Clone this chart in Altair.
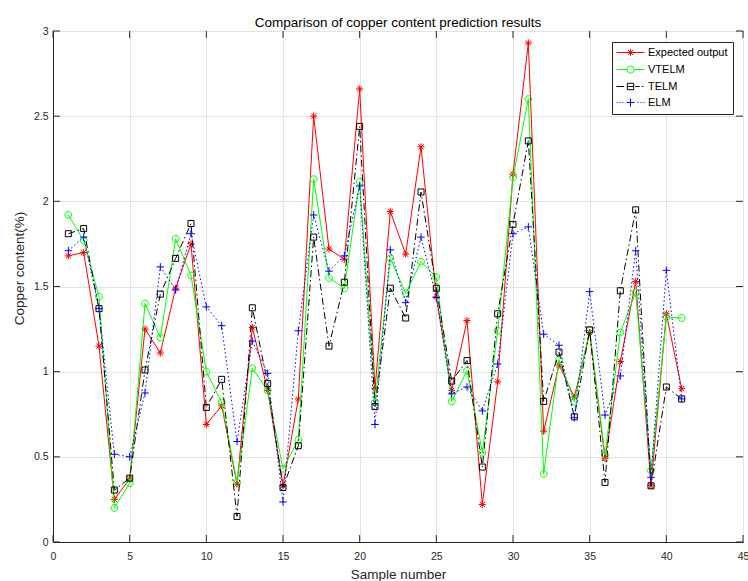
import altair as alt
import pandas as pd

samples = list(range(1, 42))
expected = [1.68, 1.70, 1.15, 0.25, 0.37, 1.25, 1.11, 1.49, 1.75, 0.69,
            0.80, 0.34, 1.26, 0.89, 0.33, 0.84, 2.50, 1.72, 1.66, 2.66,
            0.90, 1.94, 1.69, 2.32, 1.44, 0.89, 1.30, 0.22, 0.94, 2.16,
            2.93, 0.65, 1.04, 0.85, 1.23, 0.49, 1.06, 1.53, 0.33, 1.34, 0.90]
vtelm = [1.92, 1.77, 1.44, 0.20, 0.345, 1.40, 1.20, 1.78, 1.565, 1.00,
         0.82, 0.35, 1.02, 0.89, 0.43, 0.60, 2.13, 1.55, 1.49, 2.115,
         0.82, 1.665, 1.46, 1.645, 1.555, 0.825, 1.005, 0.525, 1.24, 2.14,
         2.60, 0.40, 1.07, 0.825, 1.245, 0.51, 1.23, 1.465, 0.42, 1.32, 1.315]
telm = [1.81, 1.84, 1.37, 0.305, 0.375, 1.01, 1.455, 1.665, 1.87, 0.79,
        0.955, 0.15, 1.375, 0.93, 0.32, 0.565, 1.79, 1.15, 1.525, 2.44,
        0.795, 1.49, 1.315, 2.055, 1.49, 0.945, 1.065, 0.44, 1.34, 1.865,
        2.355, 0.825, 1.115, 0.735, 1.245, 0.35, 1.475, 1.95, 0.33, 0.91, 0.84]
elm = [1.71, 1.79, 1.37, 0.515, 0.50, 0.875, 1.615, 1.48, 1.81, 1.38,
       1.27, 0.59, 1.18, 0.99, 0.235, 1.24, 1.92, 1.59, 1.68, 2.09,
       0.69, 1.715, 1.405, 1.79, 1.435, 0.87, 0.91, 0.77, 1.045, 1.81,
       1.85, 1.22, 1.155, 0.73, 1.47, 0.745, 0.975, 1.71, 0.38, 1.595, 0.84]

series_names = ["Expected output", "VTELM", "TELM", "ELM"]
x_ticks = [0, 5, 10, 15, 20, 25, 30, 35, 40, 45]
y_ticks = [0, 0.5, 1, 1.5, 2, 2.5, 3]

colors = ["#ff0000", "#00ff00", "#000000", "#0000ff"]
dashes = [None, None, [7, 3, 1.5, 3], [1.5, 2.5]]

marker_paths = [
    "M-0.9,0H0.9M0,-0.9V0.9M-0.65,-0.65L0.65,0.65M-0.65,0.65L0.65,-0.65",
    "M0.85,0A0.85,0.85 0 1,1 -0.85,0A0.85,0.85 0 1,1 0.85,0Z",
    "M-0.75,-0.75H0.75V0.75H-0.75Z",
    "M-0.95,0H0.95M0,-0.95V0.95",
]
legend_paths = [
    "M-3.5,0H3.5M0,-0.9V0.9M-0.65,-0.65L0.65,0.65M-0.65,0.65L0.65,-0.65",
    "M-3.5,0H-0.9M0.9,0H3.5M0.9,0A0.9,0.9 0 1,1 -0.9,0A0.9,0.9 0 1,1 0.9,0Z",
    "M-3.5,0H-1.6M-0.8,-0.8H0.8V0.8H-0.8ZM-0.8,0H0.8M1.2,0H2.3M2.8,0H3.2",
    "M-3.5,0H-3.25M-2.75,0H-2.5M-2.0,0H-1.75M-1,0H1M0,-1V1M1.75,0H2.0M2.5,0H2.75M3.25,0H3.5",
]

rows = []
for name, vals in zip(series_names, [expected, vtelm, telm, elm]):
    for s, v in zip(samples, vals):
        rows.append({"x": s, "y": v, "series": name})
df = pd.DataFrame(rows)
xt = pd.DataFrame({"x": x_ticks})
yt = pd.DataFrame({"y": y_ticks})

FONT = "Liberation Sans"
AX = "#262626"
W, H = 690, 511

xs = alt.Scale(domain=[0, 45], nice=False, zero=False)
ys = alt.Scale(domain=[0, 3], nice=False, zero=False)

X = alt.X("x:Q", scale=xs, axis=alt.Axis(
    values=x_ticks, title="Sample number", grid=True, gridColor="#e3e3e3",
    domainColor=AX, ticks=False, tickSize=0, labelFont=FONT, labelFontSize=10.5,
    labelColor=AX, labelBaseline="alphabetic", labelPadding=17, labelFlush=False,
    titleFont=FONT, titleFontSize=13.5, titleFontWeight="normal", titleColor=AX,
    titleBaseline="alphabetic", titleY=36.5))
Y = alt.Y("y:Q", scale=ys, axis=alt.Axis(
    values=y_ticks, format="~g", title="Copper content(%)", grid=True,
    gridColor="#e3e3e3", domainColor=AX, ticks=False, tickSize=0, labelFont=FONT,
    labelFontSize=10.5, labelColor=AX, labelPadding=5, labelFlush=False,
    titleFont=FONT, titleFontSize=13.5, titleFontWeight="normal", titleColor=AX,
    titleBaseline="alphabetic", titleX=-30, titleY=237))

layers = []
for name, c, d, mp in zip(series_names, colors, dashes, marker_paths):
    sub = alt.Chart(df).transform_filter(alt.datum.series == name)
    line_kw = dict(color=c, strokeWidth=1)
    if d is not None:
        line_kw["strokeDash"] = d
    layers.append(sub.mark_line(**line_kw).encode(x=X, y=Y))
    layers.append(sub.mark_point(shape=mp, color=c, filled=False, size=64,
                                 opacity=1, strokeWidth=1).encode(x=X, y=Y))

# inward ticks on all four sides
layers.append(alt.Chart(xt).mark_rule(color=AX, strokeWidth=1).encode(
    x=X, y=alt.value(H), y2=alt.value(H - 7)))
layers.append(alt.Chart(xt).mark_rule(color=AX, strokeWidth=1).encode(
    x=X, y=alt.value(0), y2=alt.value(7)))
layers.append(alt.Chart(yt).mark_rule(color=AX, strokeWidth=1).encode(
    y=Y, x=alt.value(0), x2=alt.value(7)))
layers.append(alt.Chart(yt).mark_rule(color=AX, strokeWidth=1).encode(
    y=Y, x=alt.value(W), x2=alt.value(W - 7)))

legend = alt.Legend(title=None, orient="none", legendX=559, legendY=11,
                    direction="vertical", strokeColor=AX, fillColor="white",
                    padding=5, rowPadding=4, labelFont=FONT, labelFontSize=11,
                    labelColor="#000000", symbolSize=64, symbolStrokeWidth=1,
                    symbolOffset=8, labelOffset=12)
layers.append(alt.Chart(df).transform_filter("false").mark_point(
    filled=False, opacity=1, size=64).encode(
    x=X, y=Y,
    color=alt.Color("series:N", scale=alt.Scale(domain=series_names, range=colors), legend=legend),
    shape=alt.Shape("series:N", scale=alt.Scale(domain=series_names, range=legend_paths), legend=legend),
))

chart = alt.layer(*layers).properties(
    width=W, height=H,
    title=alt.TitleParams("Comparison of copper content prediction results",
                          font=FONT, fontSize=13.5, fontWeight="normal",
                          color="#000000", baseline="alphabetic", offset=7, dy=21),
    autosize=alt.AutoSizeParams(type="none"),
    padding={"left": 53, "top": 31, "right": 5, "bottom": 39},
    background="white",
).configure_view(stroke=AX, strokeWidth=1)

chart.save("out.html", embed_options={"renderer": "svg", "actions": False})
